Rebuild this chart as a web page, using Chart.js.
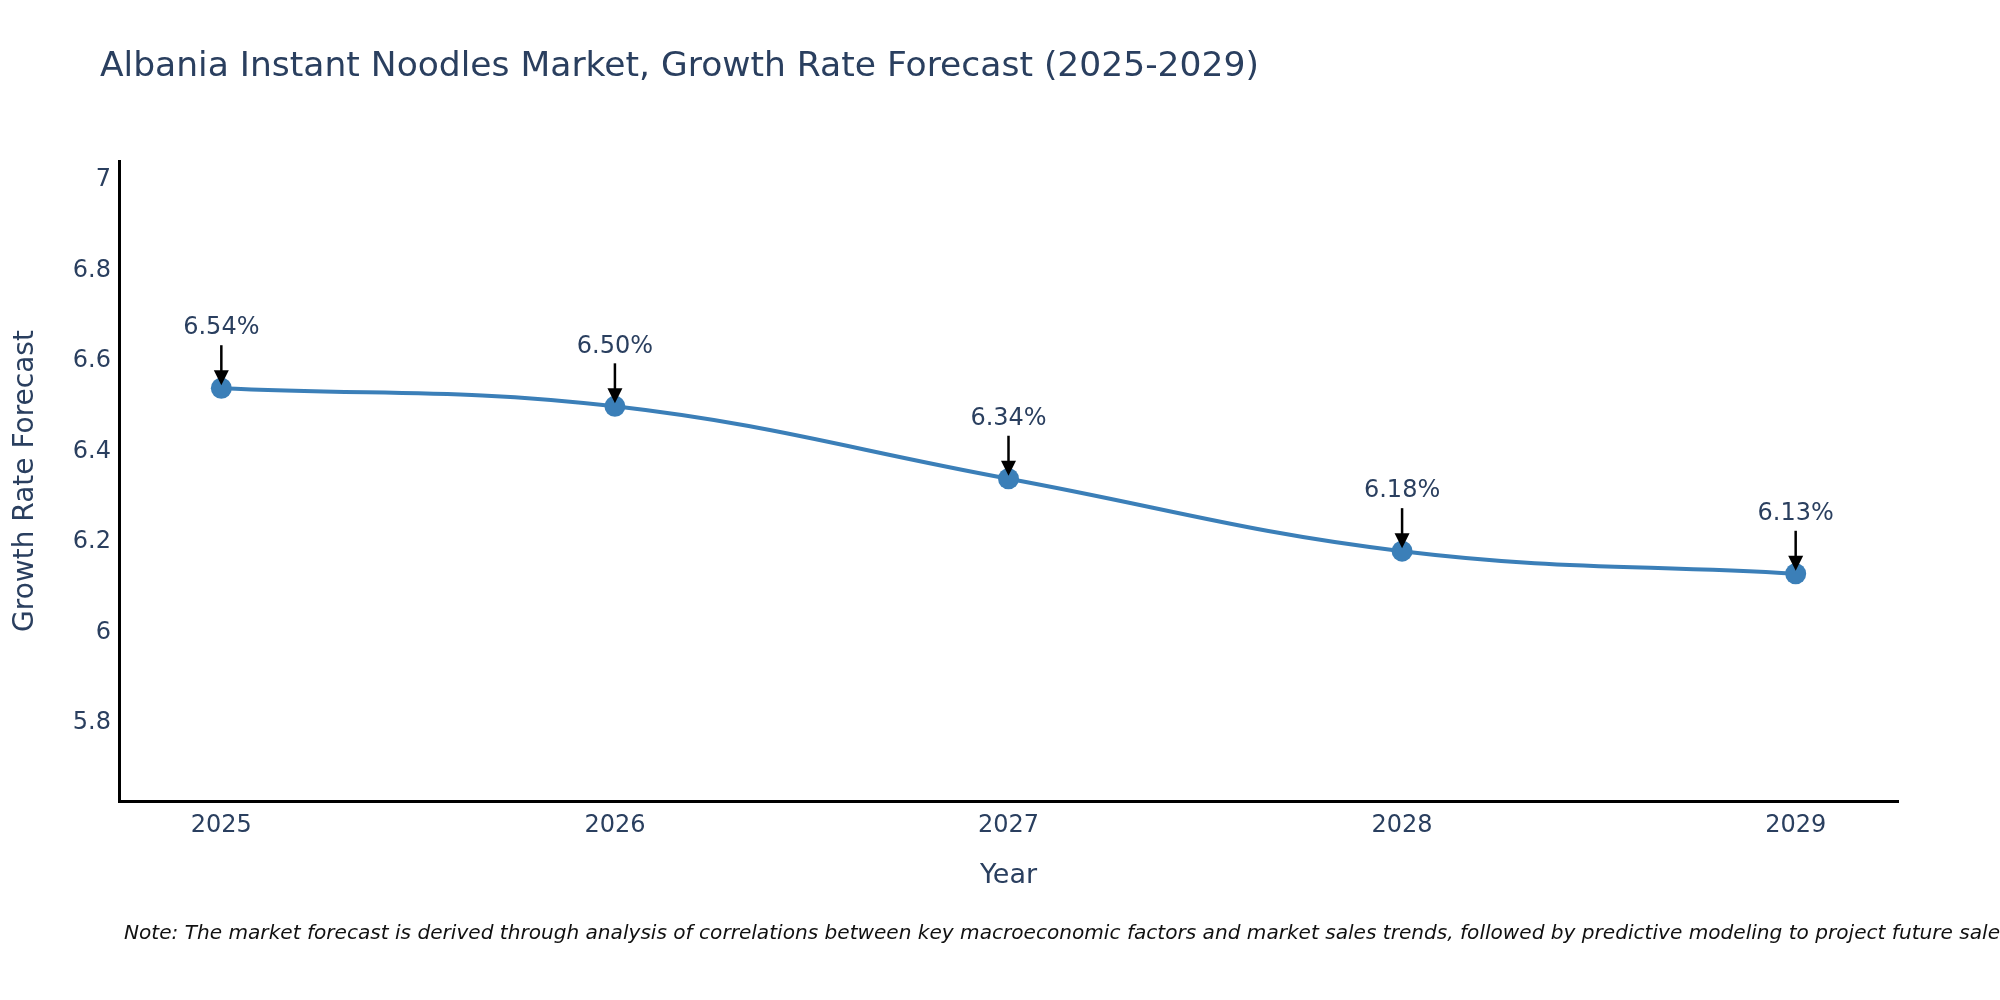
<!DOCTYPE html>
<html>
<head>
<meta charset="utf-8">
<script src="https://cdn.jsdelivr.net/npm/chart.js@4.4.1/dist/chart.umd.min.js"></script>
<style>
  html, body { margin: 0; padding: 0; background: #fff; }
  #wrap { width: 2000px; height: 1000px; position: relative; }
</style>
</head>
<body>
<div id="wrap"><canvas id="growthChart"></canvas></div>
<script>
// Dados do gráfico
const years = [2025, 2026, 2027, 2028, 2029];
const growthRates = [6.54, 6.50, 6.34, 6.18, 6.13];
const yTicks = [5.8, 6, 6.2, 6.4, 6.6, 6.8, 7];
const pointLabels = ['6.54%', '6.50%', '6.34%', '6.18%', '6.13%'];

const titleText = 'Albania Instant Noodles Market, Growth Rate Forecast (2025-2029)';
const noteText = 'Note: The market forecast is derived through analysis of correlations between key macroeconomic factors and market sales trends, followed by predictive modeling to project future sales.';

const FONT = '"DejaVu Sans", Verdana, sans-serif';
const TEXT_COLOR = '#2a3f5f';
const LINE_COLOR = '#3b7fb8';

// Título, nota e setas com rótulos
const decorPlugin = {
  id: 'decor',
  afterDatasetsDraw(chart) {
    const ctx = chart.ctx;
    const xs = chart.scales.x;
    const ys = chart.scales.y;
    ctx.save();
    years.forEach((yr, i) => {
      const px = xs.getPixelForValue(yr);
      const py = ys.getPixelForValue(growthRates[i]);
      // rótulo
      ctx.fillStyle = TEXT_COLOR;
      ctx.font = '24px ' + FONT;
      ctx.textAlign = 'center';
      ctx.textBaseline = 'middle';
      ctx.fillText(pointLabels[i], px, py - 60);
      // seta
      ctx.strokeStyle = '#000';
      ctx.lineWidth = 2.5;
      ctx.beginPath();
      ctx.moveTo(px, py - 43);
      ctx.lineTo(px, py - 16);
      ctx.stroke();
      ctx.fillStyle = '#000';
      ctx.beginPath();
      ctx.moveTo(px - 7.5, py - 18);
      ctx.lineTo(px + 7.5, py - 18);
      ctx.lineTo(px, py - 3);
      ctx.closePath();
      ctx.fill();
    });
    ctx.restore();
  },
  afterDraw(chart) {
    const ctx = chart.ctx;
    ctx.save();
    ctx.fillStyle = TEXT_COLOR;
    ctx.font = '34.5px ' + FONT;
    ctx.textAlign = 'left';
    ctx.textBaseline = 'middle';
    ctx.fillText(titleText, 100, 67);
    ctx.fillStyle = '#111';
    ctx.font = 'italic 20.1px ' + FONT;
    ctx.fillText(noteText, 124, 934);
    ctx.restore();
  }
};

const ctx = document.getElementById('growthChart').getContext('2d');
const growthChart = new Chart(ctx, {
  type: 'line',
  data: {
    datasets: [{
      label: 'Growth Rate Forecast',
      data: years.map((yr, i) => ({ x: yr, y: growthRates[i] })),
      borderColor: LINE_COLOR,
      backgroundColor: LINE_COLOR,
      borderWidth: 4,
      tension: 0.4,
      pointRadius: 10.5,
      pointHoverRadius: 10.5,
      pointBorderWidth: 0,
      fill: false
    }]
  },
  options: {
    responsive: true,
    maintainAspectRatio: false,
    devicePixelRatio: 1,
    animation: false,
    layout: { padding: { top: 161, right: 102, left: 0, bottom: 0 } },
    plugins: {
      legend: { display: false },
      tooltip: { enabled: false }
    },
    scales: {
      x: {
        type: 'linear',
        min: 2024.74,
        max: 2029.26,
        afterBuildTicks: (scale) => { scale.ticks = years.map(v => ({ value: v })); },
        afterFit: (scale) => { scale.height = 199; },
        grid: { display: false, drawTicks: false },
        border: { display: true, color: '#000', width: 3 },
        ticks: {
          padding: 10,
          color: TEXT_COLOR,
          font: { family: FONT, size: 24 },
          callback: (v) => String(v)
        },
        title: {
          display: true,
          text: 'Year',
          color: TEXT_COLOR,
          font: { family: FONT, size: 27 },
          padding: { top: 0, bottom: 108 }
        }
      },
      y: {
        min: 5.628,
        max: 7.042,
        afterBuildTicks: (scale) => { scale.ticks = yTicks.map(v => ({ value: v })); },
        afterFit: (scale) => { scale.width = 119; },
        grid: { display: false, drawTicks: false },
        border: { display: true, color: '#000', width: 3 },
        ticks: {
          padding: 8,
          color: TEXT_COLOR,
          font: { family: FONT, size: 24 },
          callback: (v) => String(v)
        },
        title: {
          display: true,
          text: 'Growth Rate Forecast',
          color: TEXT_COLOR,
          font: { family: FONT, size: 28 },
          padding: { top: 9, bottom: 0 }
        }
      }
    }
  },
  plugins: [decorPlugin]
});
</script>
</body>
</html>
